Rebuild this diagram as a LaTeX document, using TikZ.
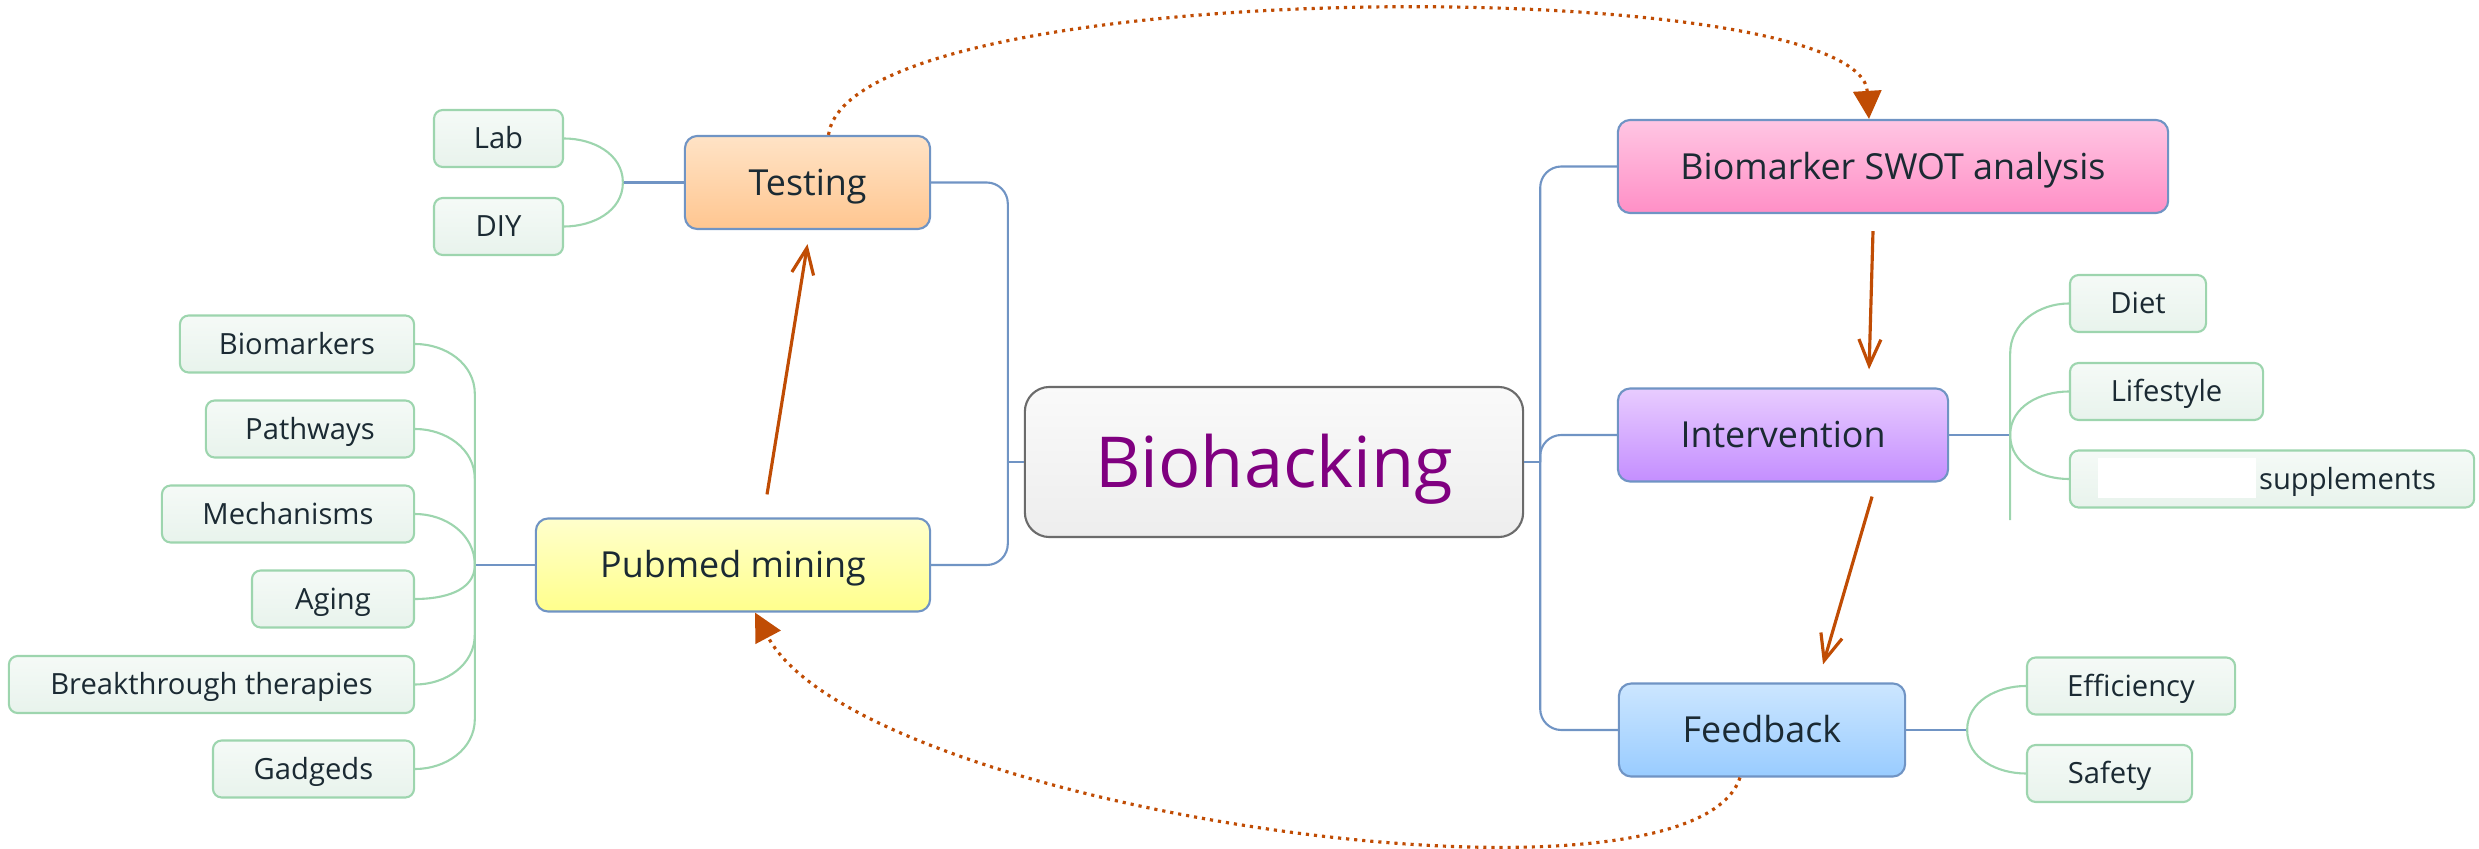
\documentclass[tikz,border=0pt]{standalone}
\usepackage{fontspec}
\setmainfont{Open Sans}
\usetikzlibrary{arrows.meta,calc}
\definecolor{bhink}{HTML}{1B2A33}
\definecolor{bhpurple}{HTML}{800080}
\definecolor{bhblue}{HTML}{7094C4}
\definecolor{bhgreen}{HTML}{9DD5AE}
\definecolor{bharrow}{HTML}{C04C04}
\definecolor{bhleaftop}{HTML}{F5FAF7}
\definecolor{bhleafbot}{HTML}{E8F3EC}

\begin{document}
\begin{tikzpicture}[x=0.01cm,y=0.01cm,
  topic/.style={draw=bhblue,line width=0.6pt,rounded corners=3.5pt,minimum height=0.93cm,inner sep=0pt,text height=7.3pt,text depth=0pt,text=bhink,font=\fontsize{10.2}{12}\selectfont},
  leaf/.style={draw=bhgreen,line width=0.6pt,rounded corners=2.5pt,top color=bhleaftop,bottom color=bhleafbot,minimum height=0.57cm,inner sep=0pt,text height=5.9pt,text depth=0pt,text=bhink,font=\fontsize{8.3}{10}\selectfont},
  branchline/.style={draw=bhblue,line width=0.6pt},
  leafline/.style={draw=bhgreen,line width=0.6pt},
  flow/.style={draw=bharrow,line width=0.9pt,-{Straight Barb[length=2.6mm,width=2.2mm]}},
  backlink/.style={draw=bharrow,line width=0.9pt,dash pattern=on 0.9pt off 1.4pt,-{Triangle[length=2.8mm,width=2.8mm]}}]
  \useasboundingbox (0,0) rectangle (2479,-849);
  % central topic and main branches
  \node[draw=black!58,line width=0.6pt,rounded corners=7pt,top color=black!2,bottom color=black!7,minimum width=4.98cm,minimum height=1.5cm,inner sep=0pt,text height=14.3pt,text depth=0pt,text=bhpurple,font=\fontsize{20}{24}\selectfont] (bio) at (1274,-462) {Biohacking};
  \node[topic,top color={rgb,255:red,255;green,227;blue,198},bottom color={rgb,255:red,255;green,198;blue,144},minimum width=2.45cm] (testing) at (807.5,-182.5) {Testing};
  \node[topic,top color={rgb,255:red,255;green,255;blue,204},bottom color={rgb,255:red,255;green,255;blue,140},minimum width=3.94cm] (pubmed) at (733,-565) {Pubmed mining};
  \node[topic,top color={rgb,255:red,255;green,198;blue,227},bottom color={rgb,255:red,255;green,143;blue,198},minimum width=5.5cm] (swot) at (1893,-166.5) {Biomarker SWOT analysis};
  \node[topic,top color={rgb,255:red,232;green,204;blue,255},bottom color={rgb,255:red,196;green,142;blue,255},minimum width=3.3cm] (interv) at (1783,-435) {Intervention};
  \node[topic,top color={rgb,255:red,204;green,230;blue,255},bottom color={rgb,255:red,153;green,204;blue,255},minimum width=2.86cm] (feedback) at (1762,-730) {Feedback};
  % leaves
  \foreach \n/\x/\y/\w/\t in {lab/498.5/138.5/1.29/Lab,diy/498.5/226.5/1.29/DIY,
      biomarkers/297/344/2.34/Biomarkers,pathways/310/429/2.08/Pathways,
      mechanisms/288/514/2.52/Mechanisms,aging/333/599/1.62/Aging,
      breakthrough/211.5/684.5/4.05/Breakthrough therapies,gadgeds/313.5/769/2.01/Gadgeds,
      diet/2138/303.5/1.36/Diet,lifestyle/2166.5/391.5/1.93/Lifestyle,
      efficiency/2131/686/2.08/Efficiency,safety/2109.5/773.5/1.65/Safety}
    \node[leaf,minimum width=\w cm] (\n) at (\x,-\y) {\t};
  \node[leaf,minimum width=4.04cm,text width=3.28cm,align=right] (supplements) at (2272,-479) {supplements};
  \fill[white] (2098,-458) rectangle (2256,-498);
  % mind map connectors
  \coordinate (lhub) at ($(bio.west)+(-16,0)$);
  \coordinate (rhub) at ($(bio.east)+(16,0)$);
  \draw[branchline] (bio.west) -- (lhub);
  \draw[branchline] (bio.east) -- (rhub);
  \foreach \n in {testing,pubmed} \draw[branchline,rounded corners=6pt] (\n.east) -| (lhub);
  \foreach \n in {swot,interv,feedback} \draw[branchline,rounded corners=6pt] (\n.west) -| (rhub);
  \coordinate (thub) at ($(testing.west)+(-61,0)$);
  \draw[branchline] (thub) -- (testing.west);
  \draw[leafline] (lab.east) to[out=0,in=90] (thub);
  \draw[leafline] (diy.east) to[out=0,in=-90] (thub);
  \coordinate (pmhub) at ($(pubmed.west)+(-60,0)$);
  \draw[branchline] (pmhub) -- (pubmed.west);
  \foreach \n/\d/\a in {biomarkers/-50/90,pathways/-50/90,breakthrough/50/-90,gadgeds/50/-90}
    \draw[leafline] (\n.east) to[out=0,in=\a] ($(\n.east -| pmhub)+(0,\d)$) -- (pmhub);
  \foreach \n/\a in {mechanisms/90,aging/-90} \draw[leafline] (\n.east) to[out=0,in=\a] (pmhub);
  \coordinate (ihub) at ($(interv.east)+(61,0)$);
  \draw[branchline] (interv.east) -- (ihub);
  \draw[leafline] (diet.west) to[out=180,in=90] ($(diet.west -| ihub)+(0,-50)$) -- (ihub) -- ++(0,-85);
  \draw[leafline] (lifestyle.west) to[out=180,in=90] (ihub);
  \draw[leafline] (supplements.west) to[out=180,in=-90] (ihub);
  \coordinate (fhub) at ($(feedback.east)+(61,0)$);
  \draw[branchline] (feedback.east) -- (fhub);
  \draw[leafline] (efficiency.west) to[out=180,in=90] (fhub);
  \draw[leafline] (safety.west) to[out=180,in=-90] (fhub);
  % workflow arrows
  \draw[flow] ([xshift=0.34cm,yshift=0.23cm]pubmed.north) -- ([yshift=-0.14cm]testing.south);
  \draw[flow] ([xshift=-0.2cm,yshift=-0.17cm]swot.south) -- ([xshift=0.86cm,yshift=0.18cm]interv.north);
  \draw[flow] ([xshift=0.89cm,yshift=-0.14cm]interv.south) -- ([xshift=0.61cm,yshift=0.18cm]feedback.north);
  \draw[backlink] ([xshift=0.21cm]testing.north) .. controls (850,28) and (1860,28) .. ([xshift=-0.24cm]swot.north);
  \draw[backlink] ([xshift=-0.22cm]feedback.south) .. controls (1690,-930) and (860,-810) .. ([xshift=0.22cm]pubmed.south);
\end{tikzpicture}
\end{document}
